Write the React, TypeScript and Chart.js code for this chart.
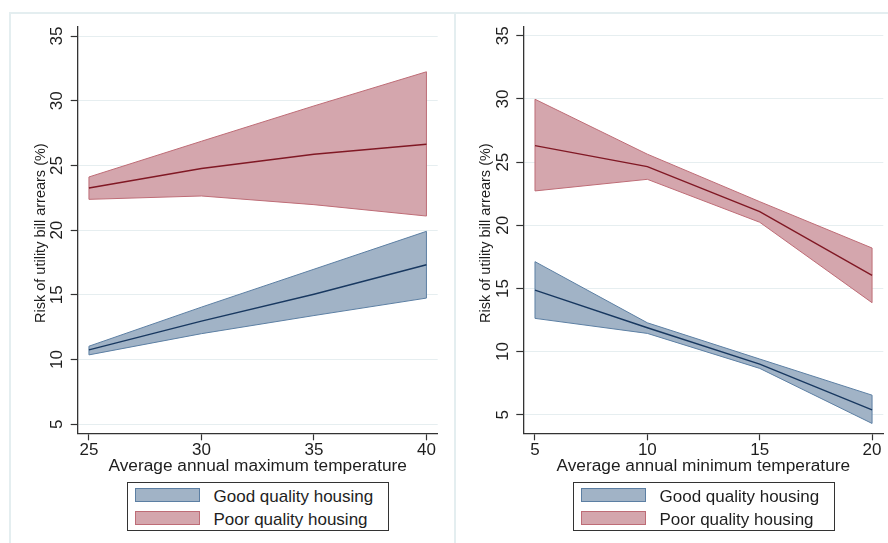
import React, { useEffect, useRef } from "react";
import { Chart, registerables } from "chart.js";
Chart.register(...registerables);

// ---------- data ----------
const maxTemp = [25, 30, 35, 40];
const goodMaxMean = [10.75, 12.97, 15.05, 17.33];
const goodMaxLower = [10.36, 12.0, 13.4, 14.75];
const goodMaxUpper = [11.03, 14.05, 16.98, 19.91];
const poorMaxMean = [23.26, 24.76, 25.87, 26.64];
const poorMaxLower = [22.38, 22.64, 21.97, 21.09];
const poorMaxUpper = [24.11, 26.87, 29.6, 32.24];

const minTemp = [5, 10, 15, 20];
const goodMinMean = [14.87, 11.89, 9.01, 5.39];
const goodMinLower = [12.63, 11.44, 8.67, 4.31];
const goodMinUpper = [17.12, 12.28, 9.41, 6.55];
const poorMinMean = [26.31, 24.65, 21.08, 16.04];
const poorMinLower = [22.72, 23.64, 20.24, 13.87];
const poorMinUpper = [29.98, 25.63, 21.87, 18.2];

const yTickValues = [5, 10, 15, 20, 25, 30, 35];
const maxTempTicks = [25, 30, 35, 40];
const minTempTicks = [5, 10, 15, 20];

const yTitle = "Risk of utility bill arrears (%)";
const maxTitle = "Average annual maximum temperature";
const minTitle = "Average annual minimum temperature";
const legendLabels = ["Good quality housing", "Poor quality housing"];

// ---------- styles ----------
const FONT = "'Liberation Sans', Arial, Helvetica, sans-serif";
const GOOD_FILL = "rgb(161,179,198)";
const GOOD_EDGE = "rgb(92,127,163)";
const GOOD_LINE = "rgb(24,56,96)";
const POOR_FILL = "rgb(212,166,173)";
const POOR_EDGE = "rgb(190,108,118)";
const POOR_LINE = "rgb(128,24,36)";
const FRAME = "#e4eef0";

const pts = (xs: number[], ys: number[]) => xs.map((x, i) => ({ x, y: ys[i] }));

const textPlugin = {
  id: "stataText",
  afterDraw(chart: any, _args: any, o: any) {
    const { ctx, chartArea: ca, scales } = chart;
    const x = scales.x;
    const y = scales.y;
    ctx.save();
    ctx.fillStyle = "#1e1e1e";
    ctx.textAlign = "center";
    ctx.textBaseline = "middle";
    ctx.font = `17px ${FONT}`;
    for (const v of o.yTicks) {
      const py = y.getPixelForValue(v);
      ctx.save();
      ctx.translate(ca.left - 20, py);
      ctx.rotate(-Math.PI / 2);
      ctx.fillText(String(v), 0, 0);
      ctx.restore();
    }
    for (const v of o.xTicks) {
      ctx.fillText(String(v), x.getPixelForValue(v), ca.bottom + 17.5);
    }
    ctx.font = `17.3px ${FONT}`;
    ctx.fillText(o.xTitle, (ca.left + ca.right) / 2, ca.bottom + 32.5);
    ctx.font = `14.5px ${FONT}`;
    ctx.save();
    ctx.translate(ca.left - 37, (ca.top + ca.bottom) / 2 + 3);
    ctx.rotate(-Math.PI / 2);
    ctx.fillText(o.yTitle, 0, 0);
    ctx.restore();
    ctx.restore();
  },
};

// vertical closing edges of the confidence bands
const edgePlugin = {
  id: "bandEdges",
  afterDatasetDraw(chart: any, args: any) {
    const ds: any = chart.data.datasets[args.index];
    if (ds.pairIndex === undefined) return;
    const a = chart.getDatasetMeta(args.index).data;
    const b = chart.getDatasetMeta(ds.pairIndex).data;
    const ctx = chart.ctx;
    ctx.save();
    ctx.strokeStyle = ds.borderColor;
    ctx.lineWidth = 1;
    for (const i of [0, a.length - 1]) {
      ctx.beginPath();
      ctx.moveTo(a[i].x, a[i].y);
      ctx.lineTo(b[i].x, b[i].y);
      ctx.stroke();
    }
    ctx.restore();
  },
};

type PanelProps = {
  left: number;
  width: number;
  xs: number[];
  good: number[][];
  poor: number[][];
  xMin: number;
  xMax: number;
  yMin: number;
  yMax: number;
  yAxisWidth: number;
  padRight: number;
  xTicks: number[];
  xTitle: string;
};

function Panel(p: PanelProps) {
  const ref = useRef<HTMLCanvasElement | null>(null);
  useEffect(() => {
    if (!ref.current) return;
    const band = (mean: number[], lower: number[], upper: number[], fill: string, edge: string, line: string, base: number) => [
      {
        data: pts(p.xs, upper),
        borderColor: edge,
        backgroundColor: fill,
        borderWidth: 1,
        pointRadius: 0,
        fill: "+1",
        order: 3,
        pairIndex: base + 1,
      },
      {
        data: pts(p.xs, lower),
        borderColor: edge,
        backgroundColor: fill,
        borderWidth: 1,
        pointRadius: 0,
        fill: false,
        order: 2,
      },
      {
        data: pts(p.xs, mean),
        borderColor: line,
        borderWidth: 1.4,
        pointRadius: 0,
        fill: false,
        order: 0,
      },
    ];
    const datasets: any[] = [
      ...band(p.good[0], p.good[1], p.good[2], GOOD_FILL, GOOD_EDGE, GOOD_LINE, 0),
      ...band(p.poor[0], p.poor[1], p.poor[2], POOR_FILL, POOR_EDGE, POOR_LINE, 3),
    ];
    const chart = new Chart(ref.current, {
      type: "line",
      data: { datasets },
      plugins: [textPlugin, edgePlugin],
      options: {
        responsive: false,
        animation: false,
        devicePixelRatio: 1,
        layout: { padding: { top: 27, right: p.padRight, left: 0, bottom: 0 } },
        plugins: {
          legend: { display: false },
          tooltip: { enabled: false },
          stataText: { yTicks: yTickValues, xTicks: p.xTicks, xTitle: p.xTitle, yTitle },
        } as any,
        scales: {
          x: {
            type: "linear",
            min: p.xMin,
            max: p.xMax,
            afterBuildTicks: (s: any) => {
              s.ticks = p.xTicks.map((v) => ({ value: v }));
            },
            afterFit: (s: any) => {
              s.height = 543 - 433.3;
            },
            ticks: { display: false },
            grid: { drawOnChartArea: false, drawTicks: true, tickLength: 7, tickColor: "#333", tickWidth: 1.2 },
            border: { display: true, color: "#333", width: 1.3 },
          },
          y: {
            type: "linear",
            min: p.yMin,
            max: p.yMax,
            afterBuildTicks: (s: any) => {
              s.ticks = yTickValues.map((v) => ({ value: v }));
            },
            afterFit: (s: any) => {
              s.width = p.yAxisWidth;
            },
            ticks: { display: false },
            grid: { drawOnChartArea: true, color: "#e6eef0", lineWidth: 1, drawTicks: true, tickLength: 7, tickColor: "#333", tickWidth: 1.2 },
            border: { display: true, color: "#333", width: 1.3 },
          },
        },
      } as any,
    });
    return () => chart.destroy();
  }, []);
  return (
    <canvas
      ref={ref}
      width={p.width}
      height={543}
      style={{ position: "absolute", left: p.left, top: 0, width: p.width, height: 543 }}
    />
  );
}

function Legend({ left }: { left: number }) {
  const sw = (fill: string, edge: string, top: number) => (
    <div
      style={{
        position: "absolute",
        left: 7,
        top,
        width: 63,
        height: 12,
        background: fill,
        border: `1.5px solid ${edge}`,
      }}
    />
  );
  const txt = (s: string, top: number) => (
    <div
      style={{
        position: "absolute",
        left: 86,
        top,
        fontFamily: FONT,
        fontSize: 17,
        lineHeight: "18px",
        color: "#1e1e1e",
        whiteSpace: "nowrap",
      }}
    >
      {s}
    </div>
  );
  return (
    <div
      style={{
        position: "absolute",
        left,
        top: 482,
        width: 260,
        height: 47,
        border: "1px solid #333",
        background: "#fff",
      }}
    >
      {sw(GOOD_FILL, GOOD_EDGE, 5)}
      {sw(POOR_FILL, POOR_EDGE, 27.5)}
      {txt(legendLabels[0], 5)}
      {txt(legendLabels[1], 27.5)}
    </div>
  );
}

export default function App() {
  return (
    <div style={{ position: "fixed", left: 0, top: 0, width: 888, height: 543, background: "#fff", overflow: "hidden" }}>
      <div style={{ position: "absolute", left: 10, top: 12, width: 878, height: 2, background: FRAME }} />
      <div style={{ position: "absolute", left: 9, top: 12, width: 2, height: 531, background: FRAME }} />
      <div style={{ position: "absolute", left: 454, top: 12, width: 2, height: 531, background: FRAME }} />
      <Panel
        left={0}
        width={450}
        xs={maxTemp}
        good={[goodMaxMean, goodMaxLower, goodMaxUpper]}
        poor={[poorMaxMean, poorMaxLower, poorMaxUpper]}
        xMin={24.5}
        xMax={40.5}
        yMin={4.3}
        yMax={35.7}
        yAxisWidth={77.7}
        padRight={12.3}
        xTicks={maxTempTicks}
        xTitle={maxTitle}
      />
      <Panel
        left={450}
        width={438}
        xs={minTemp}
        good={[goodMinMean, goodMinLower, goodMinUpper]}
        poor={[poorMinMean, poorMinLower, poorMinUpper]}
        xMin={4.48}
        xMax={20.5}
        yMin={3.53}
        yMax={35.7}
        yAxisWidth={73.3}
        padRight={4.7}
        xTicks={minTempTicks}
        xTitle={minTitle}
      />
      <Legend left={126.5} />
      <Legend left={572.5} />
    </div>
  );
}
